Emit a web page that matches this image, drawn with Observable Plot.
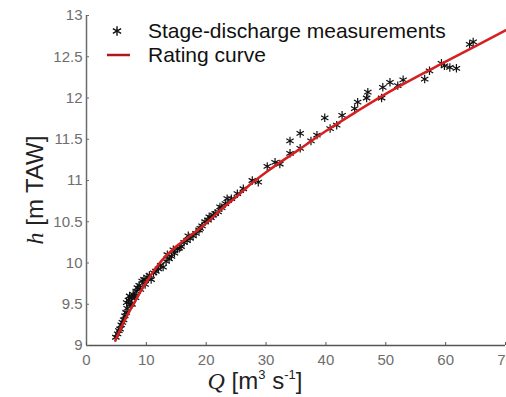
<!DOCTYPE html>
<html>
<head>
<meta charset="utf-8">
<script src="https://cdn.jsdelivr.net/npm/d3@7"></script>
<script src="https://cdn.jsdelivr.net/npm/@observablehq/plot@0.6"></script>
<style>
  html, body { margin: 0; padding: 0; background: #fff; }
  #chart svg { display: block; }
</style>
</head>
<body>
<div id="chart"></div>
<script>
const measQ = [4.9, 5.2, 5.4, 5.6, 5.8, 6.0, 6.2, 6.4, 6.6, 6.8, 6.7, 7.0, 7.2, 7.5, 7.8, 7.3, 7.6, 8.0, 8.3, 8.5,
  8.8, 8.2, 9.0, 9.3, 9.6, 9.8, 10.1, 10.5, 10.8, 11.2, 11.6, 12.0, 12.4, 12.8, 13.3, 13.8, 14.2, 13.5, 14.5, 15.5,
  14.7, 15.2, 15.8, 16.3, 16.8, 17.3, 17.8, 18.3, 18.8, 19.3, 19.8, 20.3, 20.8, 21.5, 22.0, 22.6, 23.2, 23.5, 24.2, 25.2,
  17.0, 19.0, 20.5, 21.2, 22.3,
  26.2, 27.7, 28.7, 30.2, 32.3, 31.5, 34.0, 35.7, 34.0, 35.7, 37.5, 38.5, 39.8, 40.7, 41.8, 42.7, 44.8, 45.3, 46.8, 47.0,
  49.3, 49.5, 50.7, 52.0, 52.9, 56.5, 57.3, 59.3, 59.8, 60.7, 61.8, 64.0, 64.6];
const measH = [9.10, 9.14, 9.18, 9.20, 9.25, 9.28, 9.31, 9.36, 9.40, 9.45, 9.52, 9.55, 9.60, 9.58, 9.62, 9.50, 9.50, 9.60, 9.66, 9.70,
  9.73, 9.58, 9.68, 9.78, 9.80, 9.74, 9.83, 9.85, 9.80, 9.88, 9.90, 9.93, 9.97, 9.95, 10.02, 10.05, 10.08, 10.10, 10.16, 10.18,
  10.12, 10.17, 10.20, 10.25, 10.27, 10.30, 10.33, 10.36, 10.40, 10.45, 10.50, 10.52, 10.55, 10.60, 10.62, 10.67, 10.72, 10.78, 10.78, 10.84,
  10.33, 10.42, 10.56, 10.58, 10.68,
  10.90, 11.00, 10.98, 11.17, 11.20, 11.22, 11.33, 11.39, 11.48, 11.57, 11.48, 11.55, 11.76, 11.63, 11.67, 11.79, 11.87, 11.95, 12.00, 12.07,
  12.00, 12.13, 12.19, 12.15, 12.22, 12.23, 12.33, 12.42, 12.39, 12.37, 12.36, 12.65, 12.68];

// Rating curve points
const curveQ = [4.8, 5, 6, 7, 8, 9, 10, 12, 15, 17.5, 20, 22.5, 25, 27.5, 30, 35, 40, 45, 50, 55, 60, 65, 70];
const curveH = [9.06, 9.09, 9.25, 9.39, 9.52, 9.65, 9.77, 9.98, 10.2, 10.34, 10.48, 10.65, 10.8, 10.96, 11.1, 11.35, 11.6, 11.83, 12.05, 12.25, 12.44, 12.63, 12.82];

const xTicks = [0, 10, 20, 30, 40, 50, 60, 70];
const yTicks = [9, 9.5, 10, 10.5, 11, 11.5, 12, 12.5, 13];

const meas = measQ.map((q, i) => ({Q: q, h: measH[i]}));
const curve = curveQ.map((q, i) => ({Q: q, h: curveH[i]}));

const axisColor = "#6b6b6b";
const labelColor = "#6e6e6e";

const chart = Plot.plot({
  width: 506,
  height: 397,
  marginLeft: 86,
  marginRight: 1,
  marginTop: 15,
  marginBottom: 52,
  style: {fontFamily: "Liberation Sans, Arial, sans-serif", background: "#fff"},
  x: {domain: [0, 70], ticks: xTicks, label: null},
  y: {domain: [9, 13], ticks: yTicks, label: null},
  marks: [
    // axis lines
    Plot.ruleX([0], {stroke: axisColor, strokeWidth: 1.5}),
    Plot.ruleY([9], {stroke: "#555", strokeWidth: 1.5}),
    // inward ticks
    Plot.axisY(yTicks, {anchor: "left", tickSize: 3, dx: 3, text: null, stroke: axisColor, label: null}),
    Plot.axisX(xTicks, {anchor: "bottom", tickSize: 3, dy: -3, text: null, stroke: "#555", label: null}),
    // tick labels
    Plot.axisY(yTicks, {anchor: "left", tickSize: 0, tickPadding: 4, fontSize: 15, fill: labelColor, label: null,
      tickFormat: d => String(d)}),
    Plot.axisX(xTicks, {anchor: "bottom", tickSize: 0, tickPadding: 9, fontSize: 15, fill: labelColor, label: null,
      tickFormat: d => String(d)}),
    // measurements
    Plot.dot(meas, {x: "Q", y: "h", symbol: "asterisk", r: 4, stroke: "#111", strokeWidth: 1.2}),
    // rating curve
    Plot.line(curve, {x: "Q", y: "h", stroke: "#d42020", strokeWidth: 2.5, curve: "monotone-x"})
  ]
});

document.getElementById("chart").appendChild(chart);

const svg = d3.select(chart);

// Legend
const leg = svg.append("g").attr("text-anchor", "start");
leg.append("path")
  .attr("d", d3.symbol(d3.symbolAsterisk, Math.PI * 4.5 * 4.5)())
  .attr("transform", "translate(117,31)")
  .attr("fill", "none").attr("stroke", "#111").attr("stroke-width", 1.4);
leg.append("line")
  .attr("x1", 107).attr("x2", 130).attr("y1", 55).attr("y2", 55)
  .attr("stroke", "#b01818").attr("stroke-width", 2.5);
leg.append("text").attr("x", 148).attr("y", 38).attr("text-anchor", "start")
  .attr("font-family", "Liberation Sans, Arial, sans-serif").attr("font-size", 21).attr("fill", "#111")
  .text("Stage-discharge measurements");
leg.append("text").attr("x", 148).attr("y", 62).attr("text-anchor", "start")
  .attr("font-family", "Liberation Sans, Arial, sans-serif").attr("font-size", 21).attr("fill", "#111")
  .text("Rating curve");

// Y axis label
const yl = svg.append("text")
  .attr("transform", "translate(43,190) rotate(-90)")
  .attr("text-anchor", "middle")
  .attr("font-size", 24).attr("fill", "#222")
  .attr("font-family", "Liberation Sans, Arial, sans-serif");
yl.append("tspan").attr("font-family", "Liberation Serif, Times New Roman, serif").attr("font-style", "italic").text("h");
yl.append("tspan").text(" [m TAW]");

// X axis label
const xl = svg.append("text")
  .attr("x", 255).attr("y", 389)
  .attr("text-anchor", "middle")
  .attr("font-size", 24).attr("fill", "#222")
  .attr("font-family", "Liberation Sans, Arial, sans-serif");
xl.append("tspan").attr("font-family", "Liberation Serif, Times New Roman, serif").attr("font-style", "italic").text("Q");
xl.append("tspan").text(" [m");
xl.append("tspan").attr("font-size", 13).attr("dy", -10).text("3");
xl.append("tspan").attr("dy", 10).text(" s");
xl.append("tspan").attr("font-size", 13).attr("dy", -10).text("-1");
xl.append("tspan").attr("dy", 10).text("]");
</script>
</body>
</html>
